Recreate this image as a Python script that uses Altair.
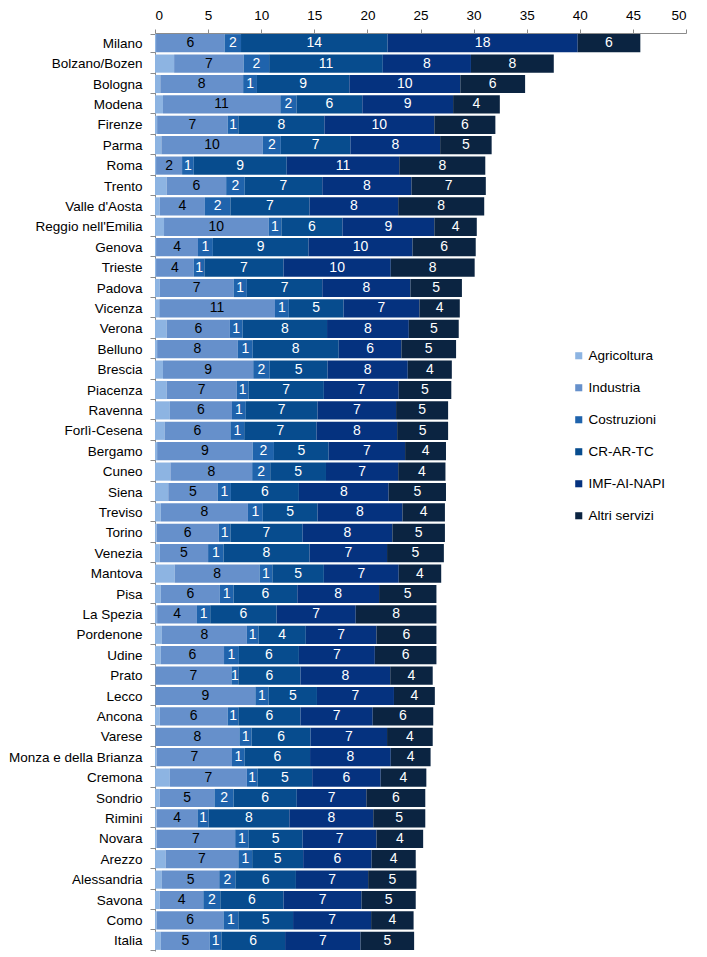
import altair as alt
import pandas as pd

# Territories, top to bottom
cities = [
    "Milano", "Bolzano/Bozen", "Bologna", "Modena", "Firenze", "Parma", "Roma",
    "Trento", "Valle d'Aosta", "Reggio nell'Emilia", "Genova", "Trieste", "Padova",
    "Vicenza", "Verona", "Belluno", "Brescia", "Piacenza", "Ravenna", "Forlì-Cesena",
    "Bergamo", "Cuneo", "Siena", "Treviso", "Torino", "Venezia", "Mantova", "Pisa",
    "La Spezia", "Pordenone", "Udine", "Prato", "Lecco", "Ancona", "Varese",
    "Monza e della Brianza", "Cremona", "Sondrio", "Rimini", "Novara", "Arezzo",
    "Alessandria", "Savona", "Como", "Italia",
]

sectors = ["Agricoltura", "Industria", "Costruzioni", "CR-AR-TC", "IMF-AI-NAPI", "Altri servizi"]

agricoltura = [
    0.1, 1.8, 0.5, 0.75, 0.2, 0.6, 0.1, 1.1, 0.45, 0.85, 0.1, 0.1, 0.45,
    0.4, 1.1, 0.2, 0.75, 1.1, 1.4, 0.9, 0.2, 1.45, 1.25, 0.55, 0.15, 0.45,
    1.85, 0.55, 0.2, 0.65, 0.55, 0.05, 0.05, 0.45, 0.05, 0.15, 1.4, 0.45,
    0.15, 0.15, 1.0, 0.65, 0.45, 0.15, 0.55,
]
industria = [
    6.45, 6.55, 7.8, 11.05, 6.65, 9.55, 2.45, 5.6, 4.25, 9.85, 3.95, 3.55, 6.95,
    10.9, 5.95, 7.6, 8.5, 6.6, 5.85, 6.2, 9.0, 7.7, 4.65, 8.2, 5.85, 4.55,
    8.0, 5.55, 3.75, 8.0, 5.95, 7.15, 9.4, 6.4, 7.9, 7.1, 7.25, 5.15,
    3.85, 7.4, 6.85, 5.4, 4.1, 6.3, 4.6,
]
costruzioni = [
    1.55, 2.4, 1.3, 1.52, 1.0, 1.7, 1.1, 1.75, 2.4, 1.2, 1.4, 1.0, 1.25,
    1.3, 1.2, 1.4, 1.55, 1.1, 1.3, 1.3, 2.0, 1.7, 1.25, 1.4, 1.1, 1.45,
    1.2, 1.3, 1.25, 1.1, 1.4, 0.65, 1.25, 1.0, 1.15, 1.2, 1.0, 1.8,
    1.05, 1.25, 1.3, 1.52, 1.6, 1.4, 1.1,
]
cr_ar_tc = [
    13.8, 10.7, 8.7, 6.2, 8.1, 6.55, 8.75, 7.3, 7.45, 5.75, 9.0, 7.45, 7.1,
    5.15, 7.95, 8.1, 5.45, 7.1, 6.75, 6.8, 5.15, 5.25, 6.4, 5.15, 6.8, 8.1,
    4.85, 6.0, 6.25, 4.45, 5.65, 5.85, 4.55, 5.85, 5.55, 6.15, 5.15, 5.95,
    7.6, 5.1, 4.8, 5.7, 5.95, 5.15, 6.0,
]
imf_ai_napi = [
    17.9, 8.3, 10.45, 8.55, 10.35, 8.45, 10.6, 8.4, 8.35, 8.65, 9.8, 10.1, 8.3,
    7.15, 7.7, 5.9, 7.55, 7.05, 7.4, 7.6, 7.2, 6.8, 8.45, 8.0, 8.45, 7.3,
    7.05, 7.7, 7.45, 6.65, 7.15, 8.45, 7.25, 6.8, 7.2, 7.6, 6.45, 6.55,
    7.9, 6.95, 6.45, 6.8, 7.35, 7.35, 7.1,
]
altri_servizi = [
    5.9, 7.8, 6.1, 4.4, 5.75, 4.85, 8.1, 7.0, 8.1, 4.0, 5.95, 7.9, 4.85,
    3.8, 4.7, 5.15, 4.15, 4.95, 4.9, 4.8, 3.85, 4.45, 5.4, 4.0, 4.95, 5.35,
    4.0, 5.4, 7.6, 5.65, 5.8, 4.0, 3.85, 5.7, 4.3, 3.75, 4.3, 5.55,
    4.9, 4.4, 4.15, 4.55, 5.1, 4.0, 5.05,
]

colors = ["#8DB4E2", "#6690CB", "#1F63AC", "#074C8E", "#05327F", "#0B2441"]

series = [agricoltura, industria, costruzioni, cr_ar_tc, imf_ai_napi, altri_servizi]
rows = []
for i, city in enumerate(cities):
    for k, sector in enumerate(sectors):
        rows.append({"citta": city, "settore": sector, "ordine": k, "valore": series[k][i]})
df = pd.DataFrame(rows)

FONT = "Liberation Sans"

base = alt.Chart(df).transform_stack(
    stack="valore",
    groupby=["citta"],
    sort=[alt.SortField("ordine", order="ascending")],
    as_=["x0", "x1"],
).transform_calculate(mid="(datum.x0 + datum.x1) / 2")

y_scale = alt.Scale(paddingInner=0.11, paddingOuter=0.055)

bars = base.mark_bar().encode(
    x=alt.X(
        "x0:Q",
        title=None,
        scale=alt.Scale(domain=[0, 50], nice=False),
        axis=alt.Axis(
            orient="top", values=list(range(0, 51, 5)), grid=False,
            tickSize=4, labelPadding=7, labelFont=FONT, labelFontSize=13.5,
            labelColor="#000000", domainColor="#8C8C8C", tickColor="#8C8C8C",
        ),
    ),
    x2="x1:Q",
    y=alt.Y(
        "citta:N", sort=cities, title=None, scale=y_scale,
        axis=alt.Axis(
            tickBand="extent", tickSize=5, labelPadding=8, labelFont=FONT,
            labelFontSize=13.5, labelColor="#000000", domainColor="#8C8C8C",
            tickColor="#8C8C8C", grid=False, labelLimit=200,
        ),
    ),
    color=alt.Color(
        "settore:N",
        sort=sectors,
        scale=alt.Scale(domain=sectors, range=colors),
        legend=alt.Legend(
            title=None, orient="none", legendX=417, legendY=316,
            symbolType="square", symbolSize=50, symbolStrokeWidth=0,
            labelFont=FONT, labelFontSize=13.5, labelColor="#000000",
            rowPadding=17, labelOffset=3, padding=0,
        ),
    ),
)

labels = base.transform_filter("datum.settore != 'Agricoltura'").mark_text(
    font=FONT, fontSize=14
).encode(
    x=alt.X("mid:Q"),
    y=alt.Y("citta:N", sort=cities),
    text=alt.Text("valore:Q", format=".0f"),
    color=alt.condition(
        "datum.settore == 'Industria'", alt.value("#000000"), alt.value("#FFFFFF")
    ),
)

chart = (
    alt.layer(bars, labels)
    .properties(
        width=531,
        height=918,
        autosize="none",
        padding={"left": 155, "top": 33, "right": 21, "bottom": 6},
        background="#FFFFFF",
    )
    .configure_view(stroke=None)
)

chart.save("out.html", embed_options={"renderer": "svg", "actions": False})
